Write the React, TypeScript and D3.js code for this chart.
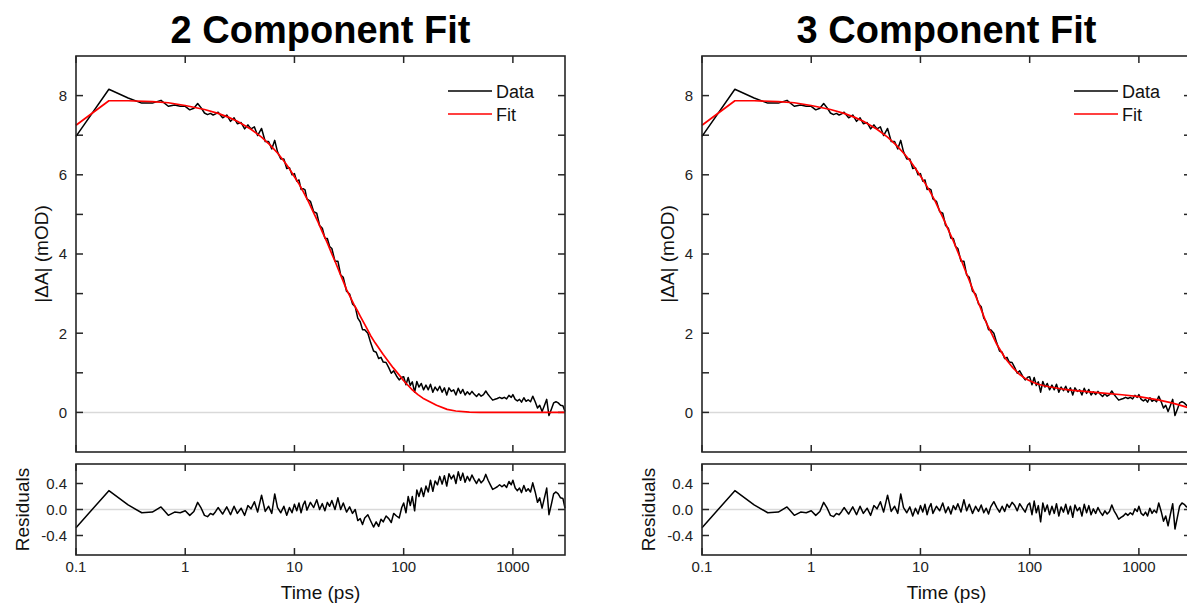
import React from 'react';
import * as d3 from 'd3';

const TIME = [
  0.1, 0.2, 0.3, 0.4, 0.5, 0.6, 0.7, 0.8, 0.9, 1.0,
  1.1, 1.2, 1.3, 1.4, 1.5, 1.6, 1.7, 1.8, 1.9, 2.0,
  2.2, 2.4, 2.6, 2.8, 3.0, 3.25, 3.5, 3.75, 4.0, 4.3,
  4.6, 5.0, 5.4, 5.8, 6.2, 6.6, 7.0, 7.5, 8.0, 8.5,
  9.0, 9.5, 10, 10.5, 11, 11.5, 12, 12.5, 13, 14,
  15, 16, 17, 18, 19, 20, 21, 22, 23.5, 25,
  26.5, 28, 30, 32, 34, 36, 38, 40, 42, 44,
  47, 50, 53, 56, 59, 62, 65, 69, 73, 77,
  81, 86, 91, 96, 100, 105, 110, 115, 120, 126,
  132, 138, 145, 152, 160, 168, 176, 185, 194, 204,
  214, 225, 236, 248, 260, 273, 287, 301, 316, 332,
  348, 365, 383, 402, 422, 443, 465, 488, 512, 538,
  565, 593, 622, 653, 686, 720, 756, 794, 834, 876,
  920, 966, 1000, 1050, 1100, 1150, 1200, 1260, 1320, 1380,
  1450, 1520, 1600, 1680, 1760, 1850, 1940, 2040, 2140, 2250,
  2360, 2480, 2600, 2730, 2870, 3000,
];

const DATA = [
  6.97, 8.16, 7.94, 7.81, 7.81, 7.88, 7.73, 7.76, 7.73, 7.73,
  7.64, 7.68, 7.80, 7.69, 7.56, 7.52, 7.55, 7.51, 7.54, 7.58,
  7.44, 7.51, 7.35, 7.44, 7.29, 7.32, 7.16, 7.26, 7.16, 7.21,
  6.99, 7.17, 6.84, 6.84, 6.65, 6.87, 6.58, 6.40, 6.40, 6.16,
  6.18, 6.00, 6.03, 5.84, 5.87, 5.63, 5.65, 5.62, 5.39, 5.33,
  5.07, 5.03, 4.72, 4.65, 4.40, 4.39, 4.19, 4.14, 3.82, 3.82,
  3.47, 3.41, 3.06, 2.99, 2.74, 2.67, 2.38, 2.29, 2.09, 2.09,
  2.00, 1.75, 1.55, 1.52, 1.36, 1.39, 1.27, 1.26, 1.13, 0.99,
  1.05, 0.92, 0.82, 0.89, 0.90, 0.70, 0.88, 0.68, 0.77, 0.51,
  0.78, 0.64, 0.73, 0.57, 0.69, 0.57, 0.71, 0.51, 0.64, 0.55,
  0.66, 0.51, 0.62, 0.44, 0.62, 0.53, 0.57, 0.44, 0.61, 0.48,
  0.58, 0.44, 0.52, 0.45, 0.53, 0.46, 0.40, 0.47, 0.41, 0.45,
  0.54, 0.45, 0.38, 0.31, 0.33, 0.35, 0.38, 0.35, 0.38, 0.34,
  0.43, 0.38, 0.45, 0.33, 0.29, 0.33, 0.26, 0.37, 0.28, 0.32,
  0.27, 0.41, 0.27, 0.11, 0.18, 0.02, 0.17, 0.33, -0.08, 0.08,
  0.24, 0.27, 0.24, 0.18, 0.17, 0.02,
];

const RES_2COMP = [
  -0.28, 0.29, 0.07, -0.05, -0.04, 0.04, -0.09, -0.04, -0.05, -0.02,
  -0.09, -0.03, 0.11, 0.02, -0.09, -0.11, -0.06, -0.08, -0.03, 0.03,
  -0.07, 0.04, -0.08, 0.05, -0.06, 0.02, -0.09, 0.06, 0.01, 0.12,
  -0.04, 0.22, -0.03, 0.05, -0.06, 0.24, 0.03, -0.05, 0.05, -0.09,
  0.03, -0.05, 0.08, -0.02, 0.10, -0.05, 0.07, 0.13, -0.01, 0.11,
  0.03, 0.15, 0.00, 0.09, -0.02, 0.11, 0.05, 0.14, 0.00, 0.18,
  0.00, 0.10, -0.04, 0.04, -0.06, 0.00, -0.17, -0.14, -0.23, -0.13,
  -0.08, -0.18, -0.27, -0.19, -0.26, -0.15, -0.19, -0.10, -0.14, -0.20,
  -0.06, -0.10, -0.13, 0.03, 0.10, -0.05, 0.20, 0.06, 0.20, -0.02,
  0.30, 0.20, 0.33, 0.20, 0.36, 0.27, 0.45, 0.28, 0.44, 0.38,
  0.51, 0.39, 0.52, 0.36, 0.55, 0.47, 0.53, 0.40, 0.58, 0.45,
  0.56, 0.42, 0.51, 0.44, 0.53, 0.46, 0.40, 0.47, 0.41, 0.45,
  0.54, 0.45, 0.38, 0.31, 0.33, 0.35, 0.38, 0.35, 0.38, 0.34,
  0.43, 0.38, 0.45, 0.33, 0.29, 0.33, 0.26, 0.37, 0.28, 0.32,
  0.27, 0.41, 0.27, 0.11, 0.18, 0.02, 0.17, 0.33, -0.08, 0.08,
  0.24, 0.27, 0.24, 0.18, 0.17, 0.02,
];

const RES_3COMP = [
  -0.28, 0.29, 0.07, -0.05, -0.04, 0.04, -0.09, -0.04, -0.05, -0.02,
  -0.09, -0.03, 0.11, 0.02, -0.09, -0.11, -0.06, -0.08, -0.03, 0.03,
  -0.07, 0.04, -0.08, 0.05, -0.06, 0.02, -0.09, 0.06, 0.01, 0.12,
  -0.04, 0.22, -0.03, 0.05, -0.06, 0.24, 0.03, -0.05, 0.04, -0.10,
  0.02, -0.07, 0.06, -0.04, 0.08, -0.08, 0.03, 0.09, -0.06, 0.05,
  -0.02, 0.10, -0.05, 0.04, -0.07, 0.06, 0.00, 0.09, -0.04, 0.15,
  -0.02, 0.08, -0.06, 0.05, -0.03, 0.07, -0.05, 0.02, -0.07, 0.04,
  0.12, 0.03, -0.04, 0.05, -0.03, 0.08, 0.03, 0.11, 0.06, -0.02,
  0.09, 0.02, -0.04, 0.07, 0.10, -0.08, 0.13, -0.05, 0.06, -0.19,
  0.10, -0.03, 0.07, -0.08, 0.05, -0.06, 0.09, -0.10, 0.04, -0.04,
  0.08, -0.07, 0.05, -0.12, 0.07, -0.02, 0.03, -0.10, 0.08, -0.05,
  0.06, -0.08, 0.01, -0.06, 0.03, -0.04, -0.09, -0.02, -0.07, -0.03,
  0.07, -0.02, -0.08, -0.15, -0.12, -0.10, -0.06, -0.09, -0.05, -0.08,
  0.01, -0.03, 0.05, -0.06, -0.09, -0.04, -0.10, 0.02, -0.06, -0.01,
  -0.05, 0.10, -0.03, -0.18, -0.10, -0.25, -0.08, 0.09, -0.30, -0.12,
  0.05, 0.10, 0.08, 0.04, 0.05, -0.08,
];

const FIT_TIME = [
  0.1, 0.2, 0.3, 0.5, 0.7, 1, 1.5, 2, 2.5, 3,
  4, 5, 6, 7, 8, 9, 10, 11, 12, 13.5,
  15, 16.5, 18, 20, 22, 24, 26, 28, 30, 32.5,
  35, 37.5, 40, 45, 50, 55, 60, 65, 70, 80,
  90, 100, 110, 120, 135, 150, 175, 200, 250, 300,
  400, 500, 700, 1000, 1500, 2000, 2500, 3000,
];

const FIT_2COMP = [
  7.25, 7.87, 7.87, 7.85, 7.82, 7.75, 7.65, 7.55, 7.45, 7.35,
  7.15, 6.95, 6.75, 6.55, 6.35, 6.15, 5.95, 5.77, 5.58, 5.31,
  5.04, 4.8, 4.56, 4.28, 4.0, 3.76, 3.52, 3.31, 3.1, 2.91,
  2.73, 2.58, 2.43, 2.17, 1.93, 1.75, 1.6, 1.46, 1.34, 1.13,
  0.96, 0.8, 0.68, 0.57, 0.45, 0.36, 0.265, 0.18, 0.076, 0.036,
  0.006, 0, 0, 0, 0, 0, 0, 0,
];

const FIT_3COMP = [
  7.25, 7.87, 7.87, 7.85, 7.82, 7.75, 7.65, 7.55, 7.45, 7.35,
  7.15, 6.95, 6.75, 6.55, 6.36, 6.16, 5.97, 5.79, 5.62, 5.36,
  5.09, 4.85, 4.61, 4.33, 4.05, 3.8, 3.55, 3.33, 3.12, 2.9,
  2.68, 2.47, 2.27, 1.98, 1.72, 1.53, 1.36, 1.24, 1.13, 0.97,
  0.865, 0.8, 0.75, 0.71, 0.673, 0.648, 0.617, 0.59, 0.558, 0.535,
  0.505, 0.48, 0.445, 0.40, 0.315, 0.24, 0.165, 0.10,
];

const TITLES = ['2 Component Fit', '3 Component Fit'];
const X_TICKS = [0.1, 1, 10, 100, 1000];
const X_TICK_LABELS = ['0.1', '1', '10', '100', '1000'];
const Y_MAJOR = [0, 2, 4, 6, 8];
const Y_MINOR = [1, 3, 5, 7];
const RES_TICKS = [-0.4, 0, 0.4];
const RES_TICK_LABELS = ['-0.4', '0.0', '0.4'];
const LEGEND = ['Data', 'Fit'];

const FONT = '"Liberation Sans", Arial, Helvetica, sans-serif';
const FRAME = '#262626';
const TICK = 7;

type PanelProps = { off: number; title: string; fit: number[]; res: number[] };

function Panel({ off, title, fit, res }: PanelProps) {
  const L = 76 + off;
  const R = 565 + off;
  const mT = 56, mB = 452, rT = 464, rB = 555;
  const x = d3.scaleLog().domain([0.1, 3000]).range([L, R]);
  const y = d3.scaleLinear().domain([-1, 9]).range([mB, mT]);
  const yr = d3.scaleLinear().domain([-0.7, 0.7]).range([rB, rT]);

  const dataPath = d3.line<number>().x((_, i) => x(TIME[i])).y((v) => y(v))(DATA) || '';
  const fitPath = d3.line<number>().x((_, i) => x(FIT_TIME[i])).y((v) => y(v))(fit) || '';
  const resPath = d3.line<number>().x((_, i) => x(TIME[i])).y((v) => yr(v))(res) || '';
  const cx = (L + R) / 2;

  return (
    <g>
      <text x={cx} y={43} textAnchor="middle" fontFamily={FONT} fontWeight="bold" fontSize={38} fill="#000">
        {title}
      </text>

      <line x1={L} x2={R} y1={y(0)} y2={y(0)} stroke="#d9d9d9" strokeWidth={1.5} />
      <line x1={L} x2={R} y1={yr(0)} y2={yr(0)} stroke="#d9d9d9" strokeWidth={1.5} />

      {X_TICKS.map((t) => (
        <g key={'mx' + t}>
          <line x1={x(t)} x2={x(t)} y1={mT} y2={mT + TICK} stroke={FRAME} strokeWidth={1.5} />
          <line x1={x(t)} x2={x(t)} y1={mB} y2={mB - TICK} stroke={FRAME} strokeWidth={1.5} />
          <line x1={x(t)} x2={x(t)} y1={rT} y2={rT + TICK} stroke={FRAME} strokeWidth={1.5} />
          <line x1={x(t)} x2={x(t)} y1={rB} y2={rB - TICK} stroke={FRAME} strokeWidth={1.5} />
        </g>
      ))}
      {[...Y_MAJOR, ...Y_MINOR].map((v) => (
        <g key={'my' + v}>
          <line x1={L} x2={L + TICK} y1={y(v)} y2={y(v)} stroke={FRAME} strokeWidth={1.5} />
          <line x1={R} x2={R - TICK} y1={y(v)} y2={y(v)} stroke={FRAME} strokeWidth={1.5} />
        </g>
      ))}
      {RES_TICKS.map((v) => (
        <g key={'ry' + v}>
          <line x1={L} x2={L + TICK} y1={yr(v)} y2={yr(v)} stroke={FRAME} strokeWidth={1.5} />
          <line x1={R} x2={R - TICK} y1={yr(v)} y2={yr(v)} stroke={FRAME} strokeWidth={1.5} />
        </g>
      ))}

      {Y_MAJOR.map((v) => (
        <text key={'yl' + v} x={L - 9} y={y(v)} dy="0.36em" textAnchor="end" fontFamily={FONT} fontSize={15} fill="#222">
          {v}
        </text>
      ))}
      {RES_TICKS.map((v, i) => (
        <text key={'rl' + v} x={L - 9} y={yr(v)} dy="0.36em" textAnchor="end" fontFamily={FONT} fontSize={15} fill="#222">
          {RES_TICK_LABELS[i]}
        </text>
      ))}
      {X_TICKS.map((t, i) => (
        <text key={'xl' + t} x={x(t)} y={572} textAnchor="middle" fontFamily={FONT} fontSize={15} fill="#222">
          {X_TICK_LABELS[i]}
        </text>
      ))}

      <text x={cx} y={599} textAnchor="middle" fontFamily={FONT} fontSize={19} fill="#111">
        Time (ps)
      </text>
      <text transform={`translate(${48 + off},${(mT + mB) / 2}) rotate(-90)`} textAnchor="middle" fontFamily={FONT} fontSize={19} fill="#111">
        |ΔA| (mOD)
      </text>
      <text transform={`translate(${28.5 + off},${(rT + rB) / 2}) rotate(-90)`} textAnchor="middle" fontFamily={FONT} fontSize={19} fill="#111">
        Residuals
      </text>

      <path d={dataPath} fill="none" stroke="#000" strokeWidth={1.5} strokeLinejoin="round" />
      <path d={fitPath} fill="none" stroke="#ff0000" strokeWidth={1.7} strokeLinejoin="round" />
      <path d={resPath} fill="none" stroke="#000" strokeWidth={1.5} strokeLinejoin="round" />

      {LEGEND.map((name, i) => (
        <g key={name}>
          <line x1={R - 117} x2={R - 73} y1={91 + i * 23} y2={91 + i * 23} stroke={i === 0 ? '#000' : '#ff0000'} strokeWidth={1.7} />
          <text x={R - 69} y={97.5 + i * 23} fontFamily={FONT} fontSize={18} fill="#111">
            {name}
          </text>
        </g>
      ))}

      <rect x={L} y={mT} width={R - L} height={mB - mT} fill="none" stroke={FRAME} strokeWidth={1.6} />
      <rect x={L} y={rT} width={R - L} height={rB - rT} fill="none" stroke={FRAME} strokeWidth={1.6} />
    </g>
  );
}

export default function App() {
  return (
    <svg
      width={1187}
      height={607}
      viewBox="0 0 1187 607"
      style={{ position: 'absolute', left: 0, top: 0, background: '#fff' }}
    >
      <rect x={0} y={0} width={1187} height={607} fill="#fff" />
      <Panel off={0} title={TITLES[0]} fit={FIT_2COMP} res={RES_2COMP} />
      <Panel off={626} title={TITLES[1]} fit={FIT_3COMP} res={RES_3COMP} />
    </svg>
  );
}
